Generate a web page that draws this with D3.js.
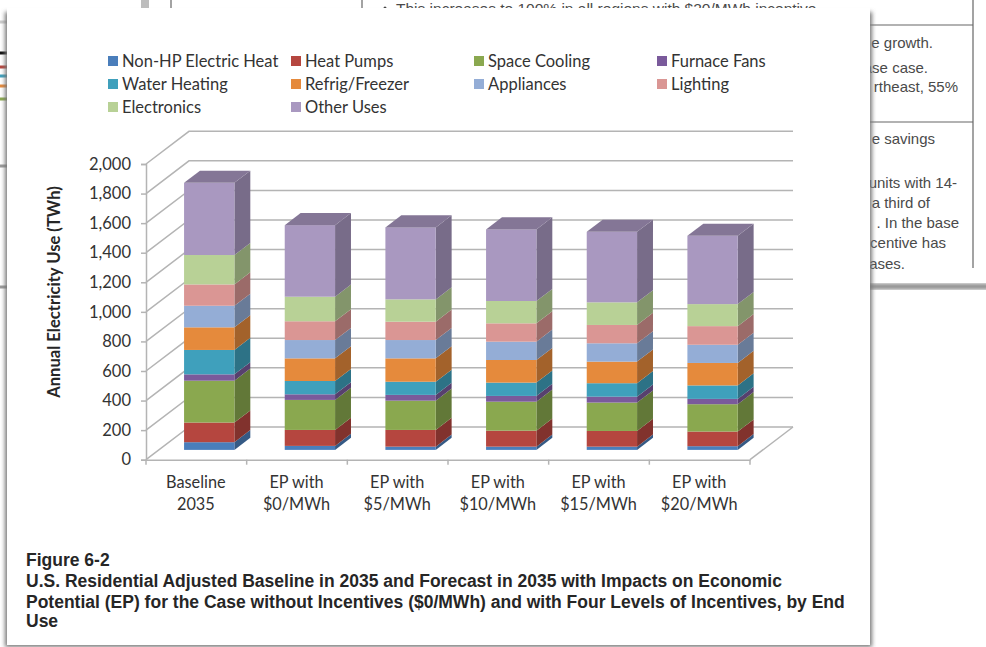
<!DOCTYPE html>
<html>
<head>
<meta charset="utf-8">
<script src="https://d3js.org/d3.v7.min.js"></script>
<style>
  html, body { margin: 0; padding: 0; background: #fff; }
  svg { display: block; }
  .chart text { font-family: Lato, sans-serif; fill: #333; }
  .doc text { font-family: "Liberation Sans", sans-serif; fill: #4a4a4a; }
  .caption text { font-family: "Liberation Sans", sans-serif; font-weight: bold; font-size: 17.5px; fill: #262626; }
</style>
</head>
<body>
<svg width="986" height="647"></svg>
<script>
const categories = [['Baseline', '2035'], ['EP with', '$0/MWh'], ['EP with', '$5/MWh'], ['EP with', '$10/MWh'], ['EP with', '$15/MWh'], ['EP with', '$20/MWh']];
const endUses = ['Non-HP Electric Heat', 'Heat Pumps', 'Space Cooling', 'Furnace Fans', 'Water Heating', 'Refrig/Freezer', 'Appliances', 'Lighting', 'Electronics', 'Other Uses'];
const colors = ['#4a7ebb', '#b5463f', '#8aa84f', '#7a5a9b', '#3fa0bc', '#e58a3c', '#94add6', '#da9694', '#b8d196', '#a998c0'];

const nonHp = [52, 27, 22, 22, 22, 25];
const heatPumps = [133, 108, 113, 108, 106, 99];
const spaceCooling = [283, 203, 198, 196, 192, 185];
const furnaceFans = [43, 38, 39, 39, 40, 36];
const waterHeating = [165, 90, 89, 90, 91, 91];
const refrigFreezer = [153, 153, 158, 153, 146, 152];
const appliances = [146, 124, 124, 124, 124, 123];
const lighting = [144, 127, 124, 124, 124, 126];
const electronics = [199, 166, 151, 151, 153, 149];
const otherUses = [488, 484, 487, 484, 477, 462];

const yTicks = [0, 200, 400, 600, 800, 1000, 1200, 1400, 1600, 1800, 2000];
const captionLines = [
    'Figure 6-2',
    'U.S. Residential Adjusted Baseline in 2035 and Forecast in 2035 with Impacts on Economic',
    'Potential (EP) for the Case without Incentives ($0/MWh) and with Four Levels of Incentives, by End',
    'Use'
];

const allSeries = [nonHp, heatPumps, spaceCooling, furnaceFans, waterHeating, refrigFreezer, appliances, lighting, electronics, otherUses];
const rows = categories.map((c, i) => {
    const row = { index: i };
    endUses.forEach((name, j) => { row[name] = allSeries[j][i]; });
    return row;
});

const svg = d3.select('svg');

// pseudo-3d depth: how far the back wall sits from the front plane
const depthX = 43;
const depthY = 32.7;
const barFront = 0.3;
const barBack = 0.67;

const x = d3.scaleBand().domain(d3.range(categories.length)).range([146, 750]).paddingInner(0).paddingOuter(0);
const y = d3.scaleLinear().domain([0, 2000]).range([459.7, 164]);
const color = d3.scaleOrdinal().domain(endUses).range(colors);
const px = (xv, d) => xv + depthX * d;
const py = (v, d) => y(v) - depthY * d;

const defs = svg.append('defs');
defs.append('filter').attr('id', 'soft').attr('x', '-10%').attr('y', '-10%').attr('width', '120%').attr('height', '120%')
    .append('feGaussianBlur').attr('stdDeviation', 2.2);
defs.append('filter').attr('id', 'tiny')
    .append('feGaussianBlur').attr('stdDeviation', 0.5);

// the document page lying behind the figure
const doc = svg.append('g').attr('class', 'doc');
doc.append('rect').attr('x', 0).attr('y', 0).attr('width', 986).attr('height', 284).attr('fill', '#fff');
doc.append('rect').attr('x', 860).attr('y', 284).attr('width', 130).attr('height', 5).attr('fill', '#777').attr('filter', 'url(#soft)');
doc.append('rect').attr('x', 141).attr('y', 0).attr('width', 8).attr('height', 9).attr('fill', '#bdbdbd').attr('filter', 'url(#tiny)');

const docLines = [[171, 0, 171, 10], [362, 0, 362, 10], [973, 0, 973, 268], [870, 25, 973, 25], [870, 122, 973, 122]];
doc.selectAll('line').data(docLines).enter().append('line')
    .attr('x1', d => d[0]).attr('y1', d => d[1]).attr('x2', d => d[2]).attr('y2', d => d[3])
    .attr('stroke', '#666').attr('stroke-width', 1.2);

const docText = [
    ['e growth.', 933, 48], ['ase case.', 928, 73], ['rtheast, 55%', 958, 92], ['e savings', 935, 144],
    ['units with 14-', 957, 188], ['a third of', 930, 208], ['. In the base', 959, 228], ['centive has', 946, 248], ['cases.', 905, 269]
];
doc.selectAll('text.side').data(docText).enter().append('text')
    .attr('class', 'side')
    .attr('x', d => d[1]).attr('y', d => d[2])
    .attr('text-anchor', 'end').attr('font-size', 15)
    .text(d => d[0]);
doc.append('text').attr('x', 396).attr('y', 14).attr('font-size', 15.5)
    .text('This increases to 100% in all regions with $20/MWh incentive');
doc.append('circle').attr('cx', 385).attr('cy', 8).attr('r', 1.5).attr('fill', '#444');

// sliver of the neighbouring chart at the left edge
const sliver = [[53, '#111'], [67, '#b5463f'], [76, '#3fa0bc'], [86, '#e58a3c'], [99, '#8aa84f'], [22, '#ccc'], [166, '#999'], [287, '#999']];
doc.selectAll('rect.sliver').data(sliver).enter().append('rect')
    .attr('class', 'sliver')
    .attr('x', 0).attr('y', d => d[0] - 1.5).attr('width', 7).attr('height', 3)
    .attr('fill', d => d[1]);

// figure panel with its shadow
svg.append('rect').attr('x', 5).attr('y', 12).attr('width', 867).attr('height', 635)
    .attr('fill', '#777').attr('filter', 'url(#soft)');
svg.append('rect').attr('x', 7).attr('y', 8).attr('width', 863).attr('height', 637).attr('fill', '#fff');

const chart = svg.append('g').attr('class', 'chart');
const wall = chart.append('g').attr('fill', 'none').attr('stroke', '#b4b4b4').attr('stroke-width', 1.5);
const backLeft = 146 + depthX;
const backRight = 750 + depthX;

// back wall gridlines plus their runs down the side wall
wall.selectAll('path').data(yTicks).enter().append('path')
    .attr('d', t => d3.line()([[146, y(t)], [backLeft, py(t, 1)], [backRight, py(t, 1)]]));
// floor edge on the right
wall.append('path').attr('d', d3.line()([[750, y(0)], [backRight, py(0, 1)]]));

// value axis
const yAxis = d3.axisLeft(y).tickValues(yTicks).tickFormat(d3.format(',')).tickSize(5).tickPadding(10);
const yG = chart.append('g').attr('transform', 'translate(146,0)').call(yAxis);
yG.select('.domain').attr('stroke', '#b4b4b4').attr('stroke-width', 1.5);
yG.selectAll('.tick line').attr('stroke', '#b4b4b4').attr('stroke-width', 1.5);
yG.selectAll('text').attr('font-size', 16.5).attr('fill', '#333');

// category axis
const xAxis = d3.axisBottom(x).tickValues([]).tickSize(0);
const xG = chart.append('g').attr('transform', `translate(0,${y(0)})`).call(xAxis);
xG.select('.domain').attr('stroke', '#b4b4b4').attr('stroke-width', 1.5);
xG.selectAll('line.mark').data(d3.range(categories.length + 1)).enter().append('line')
    .attr('class', 'mark')
    .attr('x1', i => 146 + i * x.bandwidth()).attr('x2', i => 146 + i * x.bandwidth())
    .attr('y1', 0).attr('y2', 5)
    .attr('stroke', '#b4b4b4').attr('stroke-width', 1.5);

const catLabels = chart.selectAll('text.cat').data(categories).enter().append('text')
    .attr('class', 'cat')
    .attr('text-anchor', 'middle')
    .attr('font-size', 16.3);
catLabels.append('tspan').attr('x', (d, i) => x(i) + x.bandwidth() / 2 - 0.5).attr('y', 488).text(d => d[0]);
catLabels.append('tspan').attr('x', (d, i) => x(i) + x.bandwidth() / 2 - 0.5).attr('y', 510).text(d => d[1]);

chart.append('text')
    .attr('transform', 'translate(60,292) rotate(-90)')
    .attr('text-anchor', 'middle')
    .attr('font-size', 16.6)
    .attr('font-weight', 'bold')
    .style('fill', '#262626')
    .text('Annual Electricity Use (TWh)');

// stacked columns: front face, right side face, and a lid on the last layer
const stacked = d3.stack().keys(endUses)(rows);
const barW = x.bandwidth() / 2;
const barLeft = i => x(i) + barW / 2;
const poly = pts => d3.line()(pts) + 'Z';

const layers = chart.selectAll('g.layer').data(stacked).enter().append('g')
    .attr('class', 'layer');

layers.selectAll('path.side').data(s => s.map(d => ({ key: s.key, d }))).enter().append('path')
    .attr('class', 'side')
    .attr('fill', o => d3.rgb(color(o.key)).darker(0.95))
    .attr('d', o => {
        const r = barLeft(o.d.data.index) + barW;
        return poly([
            [px(r, barFront), py(o.d[0], barFront)],
            [px(r, barBack), py(o.d[0], barBack)],
            [px(r, barBack), py(o.d[1], barBack)],
            [px(r, barFront), py(o.d[1], barFront)]
        ]);
    });

layers.selectAll('rect.front').data(s => s.map(d => ({ key: s.key, d }))).enter().append('rect')
    .attr('class', 'front')
    .attr('fill', o => color(o.key))
    .attr('x', o => px(barLeft(o.d.data.index), barFront))
    .attr('y', o => py(o.d[1], barFront))
    .attr('width', barW)
    .attr('height', o => py(o.d[0], barFront) - py(o.d[1], barFront));

const topLayer = stacked[stacked.length - 1];
chart.selectAll('path.lid').data(topLayer).enter().append('path')
    .attr('class', 'lid')
    .attr('fill', d3.rgb(colors[9]).darker(0.7))
    .attr('d', d => {
        const l = barLeft(d.data.index);
        return poly([
            [px(l, barFront), py(d[1], barFront)],
            [px(l, barBack), py(d[1], barBack)],
            [px(l + barW, barBack), py(d[1], barBack)],
            [px(l + barW, barFront), py(d[1], barFront)]
        ]);
    });

// legend, four columns filled row by row
const legendX = d3.scaleOrdinal().domain([0, 1, 2, 3]).range([108, 291, 474, 657]);
const legendY = d3.scaleOrdinal().domain([0, 1, 2]).range([61, 84, 107]);
const legend = chart.selectAll('g.legend').data(endUses).enter().append('g')
    .attr('class', 'legend')
    .attr('transform', (d, i) => `translate(${legendX(i % 4)},${legendY(Math.floor(i / 4))})`);
legend.append('rect').attr('x', 0).attr('y', -5).attr('width', 10).attr('height', 10).attr('fill', d => color(d));
legend.append('text').attr('x', 14).attr('y', 6).attr('font-size', 16.5).text(d => d);

const caption = svg.append('g').attr('class', 'caption');
caption.selectAll('text').data(captionLines).enter().append('text')
    .attr('x', 26)
    .attr('y', (d, i) => [566, 587, 608, 627][i])
    .text(d => d);
</script>
</body>
</html>
